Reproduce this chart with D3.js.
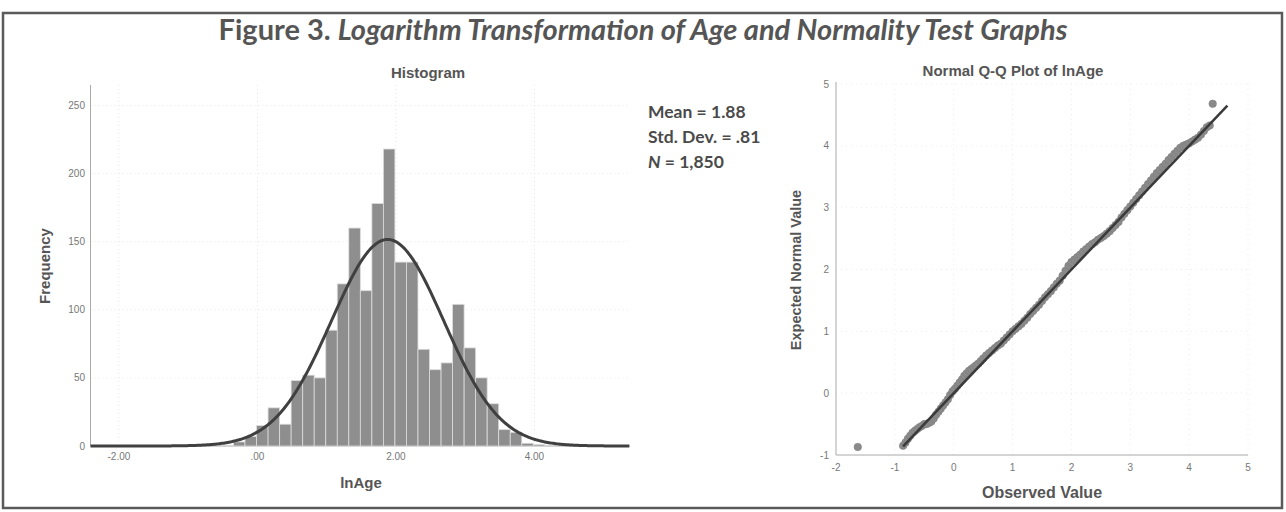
<!DOCTYPE html>
<html><head><meta charset="utf-8">
<script src="https://cdn.jsdelivr.net/npm/d3@7"></script>
<style>body{margin:0;background:#fff}svg{display:block}</style>
</head><body>
<svg id="c" width="1286" height="512"></svg>
<script>
// ---- Histogram data ----
const binStarts = [-0.345,-0.179,-0.012,0.154,0.321,0.487,0.654,0.820,0.987,1.153,1.320,1.486,1.653,1.819,1.986,2.152,2.319,2.485,2.652,2.818,2.985,3.151,3.318,3.484,3.651,3.817,3.984];
const binCounts = [3,7,15,28,16,48,52,50,85,119,160,114,178,218,135,135,71,56,61,104,72,50,31,12,10,2,1];
const binWidth = 0.1664;
const histXTicks = [-2,0,2,4];
const histXTickLabels = ["-2.00",".00","2.00","4.00"];
const histYTicks = [0,50,100,150,200,250];
const statMean = 1.88, statSD = 0.81, statN = 1850;
const statLines = ["Mean = 1.88","Std. Dev. = .81","N = 1,850"];

// ---- Q-Q data ----
const qqObserved = [-1.63,-0.86,-0.82,-0.78,-0.74,-0.70,-0.66,-0.62,-0.58,-0.54,-0.50,-0.46,-0.42,-0.38,-0.34,-0.30,-0.26,-0.22,-0.18,-0.14,-0.10,-0.06,-0.02,0.02,0.06,0.10,0.14,0.18,0.22,0.26,0.30,0.34,0.38,0.42,0.46,0.50,0.55,0.60,0.65,0.70,0.75,0.80,0.85,0.90,0.95,1.00,1.05,1.10,1.15,1.20,1.25,1.30,1.35,1.40,1.45,1.50,1.55,1.60,1.65,1.70,1.75,1.80,1.85,1.90,1.95,2.00,2.05,2.10,2.15,2.20,2.25,2.30,2.35,2.40,2.45,2.50,2.55,2.60,2.65,2.70,2.75,2.80,2.85,2.90,2.95,3.00,3.05,3.10,3.15,3.20,3.25,3.30,3.35,3.40,3.45,3.50,3.55,3.60,3.65,3.70,3.75,3.80,3.85,3.90,3.95,4.00,4.05,4.10,4.15,4.20,4.25,4.30,4.35,4.40];
const qqExpected = [-0.87,-0.85,-0.80,-0.74,-0.69,-0.64,-0.61,-0.58,-0.55,-0.53,-0.50,-0.50,-0.48,-0.46,-0.41,-0.35,-0.30,-0.25,-0.20,-0.15,-0.10,-0.03,0.03,0.07,0.12,0.17,0.22,0.28,0.32,0.36,0.39,0.42,0.45,0.48,0.52,0.56,0.61,0.65,0.69,0.73,0.77,0.80,0.85,0.90,0.95,1.00,1.04,1.08,1.12,1.17,1.22,1.28,1.33,1.38,1.43,1.49,1.55,1.60,1.65,1.71,1.77,1.82,1.90,1.98,2.06,2.12,2.16,2.20,2.24,2.29,2.33,2.37,2.41,2.44,2.48,2.51,2.54,2.58,2.62,2.67,2.72,2.77,2.84,2.90,2.96,3.02,3.08,3.14,3.20,3.26,3.32,3.38,3.44,3.50,3.56,3.61,3.66,3.71,3.77,3.82,3.87,3.92,3.97,4.00,4.02,4.04,4.07,4.10,4.13,4.18,4.24,4.30,4.33,4.68];
const qqLineRange = [-0.86, 4.65];
const qqXTicks = [-2,-1,0,1,2,3,4,5];
const qqYTicks = [-1,0,1,2,3,4,5];

const svg = d3.select("#c");
const ARIAL = "'Liberation Sans', Arial, sans-serif";
const CAL = "Lato, 'Open Sans', sans-serif";

// border
svg.append("rect").attr("x",3).attr("y",13).attr("width",1279).attr("height",495)
  .attr("fill","none").attr("stroke","#5a5a5a").attr("stroke-width",2.5);

// title
const title = svg.append("text").attr("x",643).attr("y",40).attr("text-anchor","middle")
  .attr("font-family",CAL).attr("font-weight","bold").attr("font-size",29).attr("fill","#555");
title.append("tspan").text("Figure 3. ");
title.append("tspan").attr("font-style","italic").text("Logarithm Transformation of Age and Normality Test Graphs");

// ================= Histogram =================
const hx = d3.scaleLinear().domain([-2.41,5.38]).range([90.5,630]);
const hy = d3.scaleLinear().domain([0,265]).range([446,85]);
const hg = svg.append("g");

// faint grid
hg.selectAll("line.vg").data(histXTicks).join("line")
  .attr("x1",d=>hx(d)).attr("x2",d=>hx(d)).attr("y1",hy(265)).attr("y2",hy(0))
  .attr("stroke","#e8e8e8").attr("stroke-dasharray","1,3");
hg.selectAll("line.hg").data(histYTicks.slice(1)).join("line")
  .attr("x1",hx.range()[0]).attr("x2",hx.range()[1]).attr("y1",d=>hy(d)).attr("y2",d=>hy(d))
  .attr("stroke","#e8e8e8").attr("stroke-dasharray","1,3");

// axes lines
hg.append("line").attr("x1",hx.range()[0]).attr("x2",hx.range()[0]).attr("y1",hy(265)).attr("y2",hy(0)).attr("stroke","#aaa");
hg.append("line").attr("x1",hx.range()[0]).attr("x2",hx.range()[1]).attr("y1",hy(0)).attr("y2",hy(0)).attr("stroke","#aaa");

// bars
const bins = binStarts.map((s,i)=>({x0:s,x1:s+binWidth,c:binCounts[i]}));
hg.selectAll("rect.bar").data(bins).join("rect")
  .attr("x",d=>hx(d.x0)).attr("width",d=>hx(d.x1)-hx(d.x0))
  .attr("y",d=>hy(d.c)).attr("height",d=>hy(0)-hy(d.c))
  .attr("fill","#8e8e8e").attr("stroke","#dcdcdc").attr("stroke-width",0.8);

// normal curve (fitted from mean, sd, N)
const dens = x => statN*binWidth/(statSD*Math.sqrt(2*Math.PI))*Math.exp(-0.5*((x-statMean)/statSD)**2);
const cx = d3.range(-2.41,5.381,0.02);
hg.append("path").datum(cx)
  .attr("d",d3.line().x(d=>hx(d)).y(d=>hy(dens(d))))
  .attr("fill","none").attr("stroke","#404040").attr("stroke-width",3);

// tick labels
hg.selectAll("text.yt").data(histYTicks).join("text")
  .attr("x",85).attr("y",d=>hy(d)).attr("dy","0.35em").attr("text-anchor","end")
  .attr("font-family",ARIAL).attr("font-size",10).attr("fill","#777").text(d=>d);
hg.selectAll("text.xt").data(histXTicks).join("text")
  .attr("x",d=>hx(d)).attr("y",456).attr("dy","0.35em").attr("text-anchor","middle")
  .attr("font-family",ARIAL).attr("font-size",10).attr("fill","#777").text((d,i)=>histXTickLabels[i]);

// labels
hg.append("text").attr("transform","translate(50,266) rotate(-90)").attr("text-anchor","middle")
  .attr("font-family",ARIAL).attr("font-weight","bold").attr("font-size",15).attr("fill","#555").text("Frequency");
hg.append("text").attr("x",361).attr("y",488).attr("text-anchor","middle")
  .attr("font-family",ARIAL).attr("font-weight","bold").attr("font-size",15).attr("fill","#555").text("lnAge");
hg.append("text").attr("x",428).attr("y",78).attr("text-anchor","middle")
  .attr("font-family",ARIAL).attr("font-weight","bold").attr("font-size",15).attr("fill","#555").text("Histogram");

// stats
statLines.forEach((t,i)=>{
  const tx = hg.append("text").attr("x",648).attr("y",118+i*25)
    .attr("font-family",CAL).attr("font-weight","bold").attr("font-size",17.5).attr("fill","#4a4a4a");
  if (t.startsWith("N ")) {
    tx.append("tspan").attr("font-style","italic").text("N");
    tx.append("tspan").text(t.slice(1));
  } else tx.text(t);
});

// ================= Q-Q plot =================
const qx = d3.scaleLinear().domain([-2,5]).range([836,1248]);
const qy = d3.scaleLinear().domain([-1,5]).range([455,84]);
const qg = svg.append("g");

qg.selectAll("line.qv").data(qqXTicks.slice(1)).join("line")
  .attr("x1",d=>qx(d)).attr("x2",d=>qx(d)).attr("y1",qy(5)).attr("y2",qy(-1))
  .attr("stroke","#ececec").attr("stroke-dasharray","1,4");
qg.selectAll("line.qh").data(qqYTicks.slice(1)).join("line")
  .attr("x1",qx(-2)).attr("x2",qx(5)).attr("y1",d=>qy(d)).attr("y2",d=>qy(d))
  .attr("stroke","#ececec").attr("stroke-dasharray","1,4");

qg.append("line").attr("x1",qx(-2)).attr("x2",qx(-2)).attr("y1",qy(5)-2).attr("y2",qy(-1)).attr("stroke","#aaa");
qg.append("line").attr("x1",qx(-2)).attr("x2",qx(5)).attr("y1",qy(-1)).attr("y2",qy(-1)).attr("stroke","#aaa");

// points
const pts = qqObserved.map((o,i)=>({o, e:qqExpected[i]}));
qg.selectAll("circle").data(pts).join("circle")
  .attr("cx",d=>qx(d.o)).attr("cy",d=>qy(d.e)).attr("r",3.8)
  .attr("fill","#8a8a8a").attr("stroke","#7c7c7c").attr("stroke-width",0.5);

// reference line
qg.append("line").attr("x1",qx(qqLineRange[0])).attr("y1",qy(qqLineRange[0]))
  .attr("x2",qx(qqLineRange[1])).attr("y2",qy(qqLineRange[1]))
  .attr("stroke","#3a3a3a").attr("stroke-width",2.5);

qg.selectAll("text.yt").data(qqYTicks).join("text")
  .attr("x",829).attr("y",d=>qy(d)).attr("dy","0.35em").attr("text-anchor","end")
  .attr("font-family",ARIAL).attr("font-size",10).attr("fill","#777").text(d=>d);
qg.selectAll("text.xt").data(qqXTicks).join("text")
  .attr("x",d=>qx(d)).attr("y",467).attr("dy","0.35em").attr("text-anchor","middle")
  .attr("font-family",ARIAL).attr("font-size",10).attr("fill","#777").text(d=>d);

qg.append("text").attr("transform","translate(801,270) rotate(-90)").attr("text-anchor","middle")
  .attr("font-family",ARIAL).attr("font-weight","bold").attr("font-size",14.5).attr("fill","#555").text("Expected Normal Value");
qg.append("text").attr("x",1042).attr("y",498).attr("text-anchor","middle")
  .attr("font-family",ARIAL).attr("font-weight","bold").attr("font-size",16).attr("fill","#555").text("Observed Value");
qg.append("text").attr("x",1013).attr("y",76).attr("text-anchor","middle")
  .attr("font-family",ARIAL).attr("font-weight","bold").attr("font-size",15).attr("fill","#555").text("Normal Q-Q Plot of lnAge");
</script>
</body></html>
